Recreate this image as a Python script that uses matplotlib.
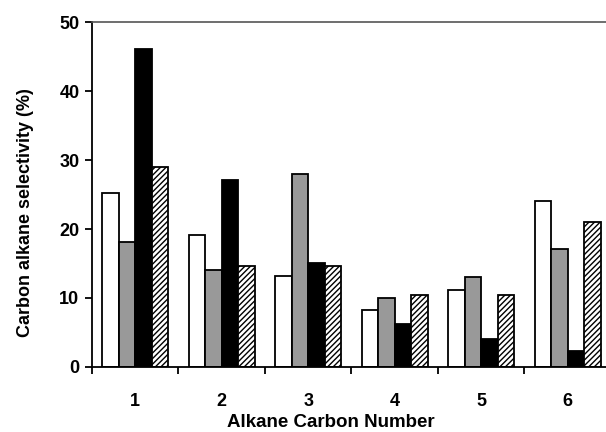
import numpy as np
import matplotlib
matplotlib.use("Agg")
import matplotlib.pyplot as plt

carbon_numbers = ['1', '2', '3', '4', '5', '6']
series_white = [25.2, 19.2, 13.2, 8.2, 11.1, 24.1]
series_gray = [18.1, 14.0, 28.0, 10.0, 13.1, 17.1]
series_black = [46.1, 27.1, 15.0, 6.2, 4.1, 2.3]
series_hatch = [29.0, 14.7, 14.7, 10.5, 10.5, 21.0]

plt.rcParams['font.family'] = ['Liberation Sans', 'DejaVu Sans']
plt.rcParams['font.weight'] = 'bold'
plt.rcParams['hatch.linewidth'] = 1.0

fig = plt.figure(figsize=(6.06, 4.32), dpi=100)
ax = fig.add_axes([0.1518, 0.1505, 0.8564, 0.7985])

x = np.arange(len(carbon_numbers))
w = 0.19
offsets = np.array([-1.5, -0.5, 0.5, 1.5]) * w

ax.bar(x + offsets[0], series_white, w, color='white', edgecolor='black', linewidth=1.3)
ax.bar(x + offsets[1], series_gray, w, color='#999999', edgecolor='black', linewidth=1.3)
ax.bar(x + offsets[2], series_black, w, color='black', edgecolor='black', linewidth=1.3)
ax.bar(x + offsets[3], series_hatch, w, color='white', edgecolor='black', linewidth=1.3, hatch='//////')

ax.set_xlim(-0.5, len(carbon_numbers) - 0.5)
ax.set_ylim(0, 50)
ax.set_yticks([0, 10, 20, 30, 40, 50])

ax.set_xticks(x)
ax.set_xticklabels(carbon_numbers)
ax.set_xticks(np.arange(-0.5, len(carbon_numbers)), minor=True)
ax.tick_params(axis='x', which='major', length=0, pad=19, labelsize=13)
ax.tick_params(axis='x', which='minor', length=5, width=1.3, direction='out')
ax.tick_params(axis='y', length=5, width=1.3, direction='out', labelsize=13, pad=4)

ax.spines['right'].set_visible(False)
ax.spines['top'].set_color('#555555')
ax.spines['top'].set_linewidth(1.2)
ax.spines['left'].set_linewidth(1.3)
ax.spines['bottom'].set_linewidth(1.3)

ax.set_xlabel('Alkane Carbon Number', fontsize=13.5, fontweight='bold', va='center')
ax.xaxis.set_label_coords(0.461, -0.162)
ax.set_ylabel('Carbon alkane selectivity (%)', fontsize=13, fontweight='bold', va='center')
ax.yaxis.set_label_coords(-0.128, 0.448)

fig.savefig('out.png', dpi=100)
